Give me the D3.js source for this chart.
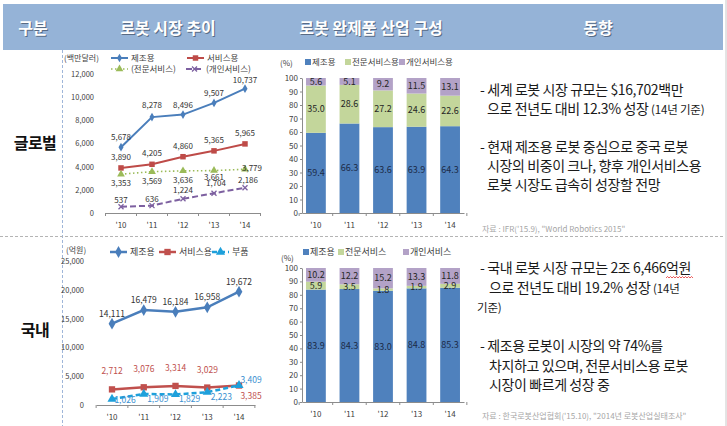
<!DOCTYPE html>
<html><head><meta charset="utf-8">
<script src="https://cdn.jsdelivr.net/npm/d3@7"></script>
<style>
body{margin:0;background:#fff}
text{font-family:"Noto Sans CJK KR","Noto Sans",sans-serif}
</style>
</head><body>
<svg id="c" width="727" height="426"></svg>
<script>
// ---------------- DATA ----------------
const years = ["'10","'11","'12","'13","'14"];
const headerLabels = ["구분","로봇 시장 추이","로봇 완제품 산업 구성","동향"];
const rowLabels = ["글로벌","국내"];

// Global robot market (백만달러)
const gSeriesNames = ["제조용","서비스용","(전문서비스)","(개인서비스)"];
const gMfg = [5678,8278,8496,9507,10737];
const gSvc = [3890,4205,4860,5365,5965];
const gPro = [3353,3569,3636,3661,3779];
const gPer = [537,636,1224,1704,2186];
const gYTicks = [0,2000,4000,6000,8000,10000,12000];
const gUnit = "(백만달러)";

// Global composition (%)
const gBarNames = ["제조용","전문서비스용","개인서비스용"];
const gShareMfg = [59.4,66.3,63.6,63.9,64.3];
const gSharePro = [35.0,28.6,27.2,24.6,22.6];
const gSharePer = [5.6,5.1,9.2,11.5,13.1];

// Domestic robot market (억원)
const dSeriesNames = ["제조용","서비스용","부품"];
const dMfg = [14111,16479,16184,16958,19672];
const dSvc = [2712,3076,3314,3029,3385];
const dParts = [1026,1909,1829,2223,3409];
const dYTicks = [0,5000,10000,15000,20000,25000];
const dUnit = "(억원)";

// Domestic composition (%)
const dBarNames = ["제조용","전문서비스","개인서비스"];
const dShareMfg = [83.9,84.3,83.0,84.8,85.3];
const dSharePro = [5.9,3.5,1.8,1.9,2.9];
const dSharePer = [10.2,12.2,15.2,13.3,11.8];
const pctTicks = [0,10,20,30,40,50,60,70,80,90,100];

// Notes
const gNotes = [
  ["- 세계 로봇 시장 규모는 $16,702백만"],
  ["으로 전년도 대비 12.3% 성장 ","(14년 기준)"],
  null,
  ["- 현재 제조용 로봇 중심으로 중국 로봇"],
  ["시장의 비중이 크나, 향후 개인서비스용"],
  ["로봇 시장도 급속히 성장할 전망"]
];
const gSource = "자료 : IFR('15.9), \"World Robotics 2015\"";
const dNotes = [
  ["- 국내 로봇 시장 규모는 2조 6,466","억원"],
  ["으로 전년도 대비 19.2% 성장 ","(14년"],
  ["","기준)"],
  null,
  ["- 제조용 로봇이 시장의 약 74%를"],
  ["차지하고 있으며, 전문서비스용 로봇"],
  ["시장이 빠르게 성장 중"]
];
const dSource = "자료 : 한국로봇산업협회('15.10), \"2014년 로봇산업실태조사\"";

// ---------------- DRAW ----------------
const svg = d3.select("#c");
const fmt = d3.format(",");

// frame
svg.append("rect").attr("x",3).attr("y",4).attr("width",720).attr("height",46).attr("fill","#95b3d7");
svg.append("line").attr("x1",726).attr("x2",726).attr("y1",0).attr("y2",426).attr("stroke","#c8c8c8").attr("stroke-width",1);
svg.append("line").attr("x1",62.5).attr("x2",62.5).attr("y1",50).attr("y2",426)
  .attr("stroke","#9fb6d9").attr("stroke-width",1).attr("stroke-dasharray","3,2");
svg.append("line").attr("x1",0).attr("x2",724).attr("y1",236.5).attr("y2",236.5)
  .attr("stroke","#b4b4b4").attr("stroke-width",1).attr("stroke-dasharray","3,2");

const headerX = [33,168,371,598];
headerLabels.forEach((t,i)=>{
  svg.append("text").attr("x",headerX[i]+1).attr("y",35).attr("text-anchor","middle")
    .attr("font-size",16).attr("font-weight","bold").attr("fill","#44546a").attr("opacity",0.75).text(t);
  svg.append("text").attr("x",headerX[i]).attr("y",34).attr("text-anchor","middle")
    .attr("font-size",16).attr("font-weight","bold").attr("fill","#fff").text(t);
});
const rowY = [149,336];
rowLabels.forEach((t,i)=>{
  svg.append("text").attr("x",35).attr("y",rowY[i]).attr("text-anchor","middle")
    .attr("font-size",16).attr("font-weight","bold").attr("letter-spacing",-0.5).attr("fill","#111").text(t);
});

function marker(g, type, cx, cy, size, color){
  if(type==="x"){
    const s=size;
    g.append("path").attr("d",`M${cx-s},${cy-s}L${cx+s},${cy+s}M${cx-s},${cy+s}L${cx+s},${cy-s}`)
      .attr("stroke",color).attr("stroke-width",1.3).attr("fill","none");
    return;
  }
  const t = {diamond:d3.symbolDiamond, square:d3.symbolSquare, triangle:d3.symbolTriangle}[type];
  g.append("path").attr("d",d3.symbol().type(t).size(size)()).attr("transform",`translate(${cx},${cy})`)
    .attr("fill",color);
}

function lineChart(o){
  const g = svg.append("g");
  const x = d3.scalePoint().domain(years).range(o.xr);
  const y = d3.scaleLinear().domain([0,o.ticks[o.ticks.length-1]]).range(o.yr);
  const step = x.step();
  const xb = d3.scaleBand().domain(years).range([o.xr[0]-step/2, o.xr[1]+step/2]);
  const ya = g.append("g").attr("transform",`translate(${o.yLabelX},0)`)
    .call(d3.axisLeft(y).tickValues(o.ticks).tickSize(0).tickPadding(0).tickFormat(fmt));
  ya.select(".domain").remove();
  ya.selectAll("text").attr("font-size",o.tickFont).attr("fill","#404040").style("font-family",'"Noto Sans CJK KR",sans-serif');
  const xa = g.append("g").attr("transform",`translate(0,${y(0)})`)
    .call(d3.axisBottom(xb).tickSize(0).tickPadding(o.xPad));
  xa.select(".domain").attr("stroke","#8c8c8c");
  xa.selectAll("text").attr("font-size",8).attr("fill","#404040").style("font-family",'"Noto Sans CJK KR",sans-serif');
  const bounds = years.map(d=>xb(d)).concat([xb.range()[1]]);
  g.selectAll(".bt").data(bounds).enter().append("line")
    .attr("x1",d=>d).attr("x2",d=>d).attr("y1",y(0)).attr("y2",y(0)+3).attr("stroke","#8c8c8c");
  o.series.forEach(s=>{
    const line = d3.line().x((d,i)=>x(years[i])).y(d=>y(d));
    g.append("path").datum(s.values).attr("d",line).attr("fill","none")
      .attr("stroke",s.color).attr("stroke-width",s.width).attr("stroke-dasharray",s.dash||null);
    s.values.forEach((v,i)=>marker(g,s.marker,x(years[i]),y(v),s.msize,s.color));
  });
  o.series.forEach(s=>{
    s.values.forEach((v,i)=>{
      const off = (s.offsets && s.offsets[i]) || [s.dx||0, s.dy];
      g.append("text").attr("x",x(years[i])+off[0]).attr("y",y(v)+off[1]+3)
        .attr("text-anchor","middle").attr("font-size",o.labelFont).attr("fill",s.labelColor).text(fmt(v));
    });
  });
  g.append("text").attr("x",o.unitPos[0]).attr("y",o.unitPos[1]+3).attr("font-size",8).attr("fill","#404040").text(o.unit);
  o.series.forEach((s,i)=>{
    const [lx,ly] = o.legendPos[i];
    g.append("line").attr("x1",lx).attr("x2",lx+17).attr("y1",ly).attr("y2",ly)
      .attr("stroke",s.color).attr("stroke-width",s.width).attr("stroke-dasharray",s.dash||null);
    marker(g,s.marker,lx+8.5,ly,s.msize,s.color);
    g.append("text").attr("x",lx+20).attr("y",ly+3).attr("font-size",o.legendFont).attr("fill","#404040").text(s.name);
  });
}

lineChart({
  xr:[121,245], yr:[213,74], ticks:gYTicks, yLabelX:94, tickFont:7.5, labelFont:8, xPad:9, unit:gUnit, unitPos:[64,58],
  legendFont:8.5,
  legendPos:[[111,58],[187,58],[111,69],[186,69]],
  series:[
    {name:gSeriesNames[0],values:gMfg,color:"#4a7ebb",width:2,marker:"diamond",msize:22,dy:-10,labelColor:"#333",
      offsets:[null,[0,-12],null,null,[0,-9]]},
    {name:gSeriesNames[1],values:gSvc,color:"#be4b48",width:2,marker:"square",msize:30,dy:-11,labelColor:"#333"},
    {name:gSeriesNames[2],values:gPro,color:"#9bbb59",width:1.6,dash:"1.5,2.5",marker:"triangle",msize:26,dy:9,labelColor:"#333",
      offsets:[null,null,null,[0,6],[7,-1]]},
    {name:gSeriesNames[3],values:gPer,color:"#7d60a0",width:2,dash:"6,3",marker:"x",msize:2.5,dy:-9,labelColor:"#333",
      offsets:[[0,-7],[0,-7],null,[2,-10],[3,-8]]}
  ]
});
lineChart({
  xr:[112,239], yr:[405,261], ticks:dYTicks, yLabelX:84, tickFont:7.5, labelFont:8.5, xPad:9, unit:dUnit, unitPos:[66,250],
  legendFont:9,
  legendPos:[[110,252],[159,252],[212,252]],
  series:[
    {name:dSeriesNames[0],values:dMfg,color:"#4a7ebb",width:2.5,marker:"diamond",msize:40,dy:-10,labelColor:"#333"},
    {name:dSeriesNames[1],values:dSvc,color:"#c0504d",width:2.5,marker:"square",msize:40,dy:-18,labelColor:"#c0504d",
      offsets:[null,null,null,null,[12,10]]},
    {name:dSeriesNames[2],values:dParts,color:"#1ea0db",width:2.5,dash:"5,3",marker:"triangle",msize:36,dx:14,dy:5,labelColor:"#3a8fd0",
      offsets:[[13,1],null,null,null,[12,-5]]}
  ]
});

function barChart(o){
  const g = svg.append("g");
  const x = d3.scaleBand().domain(years).range([302,464]).paddingInner(0.41).paddingOuter(0.12);
  const y = d3.scaleLinear().domain([0,100]).range([o.y0,o.y100]);
  const keys = ["a","b","c"];
  const rows = years.map((yr,i)=>({yr,a:o.a[i],b:o.b[i],c:o.c[i]}));
  const stack = d3.stack().keys(keys)(rows);
  const colors = ["#4f81bd","#c3d69b","#b3a2c7"];
  stack.forEach((layer,k)=>{
    g.selectAll(null).data(layer).enter().append("rect")
      .attr("x",d=>x(d.data.yr)).attr("width",x.bandwidth())
      .attr("y",d=>y(d[1])).attr("height",d=>y(d[0])-y(d[1])).attr("fill",colors[k]);
  });
  stack.forEach((layer,k)=>{
    g.selectAll(null).data(layer).enter().append("text")
      .attr("x",d=>x(d.data.yr)+x.bandwidth()/2).attr("y",d=>(y(d[0])+y(d[1]))/2+3.2)
      .attr("text-anchor","middle").attr("font-size",9).attr("fill",k===0?"#1c2b48":"#262626")
      .text(d=>(d[1]-d[0]).toFixed(1));
  });
  const ya = g.append("g").attr("transform",`translate(302,0)`)
    .call(d3.axisLeft(y).tickValues(pctTicks).tickSizeInner(2).tickSizeOuter(0).tickPadding(2));
  ya.select(".domain").attr("stroke","#8c8c8c");
  ya.selectAll("line").attr("stroke","#8c8c8c");
  ya.selectAll("text").attr("font-size",8).attr("fill","#404040").style("font-family",'"Noto Sans CJK KR",sans-serif');
  const xa = g.append("g").attr("transform",`translate(0,${o.y0})`)
    .call(d3.axisBottom(x).tickSize(0).tickPadding(9));
  xa.select(".domain").attr("stroke","#8c8c8c");
  xa.selectAll("text").attr("font-size",8).attr("fill","#404040").style("font-family",'"Noto Sans CJK KR",sans-serif');
  const step = x.step();
  const bounds = years.map(d=>x(d)-(step-x.bandwidth())/2).concat([x(years[4])+x.bandwidth()+(step-x.bandwidth())/2]);
  g.selectAll(null).data(bounds).enter().append("line")
    .attr("x1",d=>d).attr("x2",d=>d).attr("y1",o.y0).attr("y2",o.y0+3).attr("stroke","#8c8c8c");
  g.append("text").attr("x",o.unitPos[0]).attr("y",o.unitPos[1]+3).attr("font-size",8).attr("fill","#404040").text("(%)");
  o.names.forEach((n,i)=>{
    const lx=o.legendX[i];
    g.append("rect").attr("x",lx).attr("y",o.legendY-3).attr("width",6).attr("height",6).attr("fill",colors[i]);
    g.append("text").attr("x",lx+7).attr("y",o.legendY+3.3).attr("font-size",o.legendFont).attr("fill","#404040").text(n);
  });
}
barChart({a:gShareMfg,b:gSharePro,c:gSharePer,y0:213,y100:78,names:gBarNames,legendX:[305,345,399],legendY:62,legendFont:8.5,unitPos:[280,63]});
barChart({a:dShareMfg,b:dSharePro,c:dSharePer,y0:402,y100:268,names:dBarNames,legendX:[303,338,403],legendY:252,legendFont:9,unitPos:[281,258]});

function notes(lines, baseY, lh, contX, src, srcY){
  const g = svg.append("g");
  let wavyT = null;
  lines.forEach((ln,i)=>{
    if(!ln) return;
    const isBullet = ln[0].startsWith("-");
    const small = ln[0]==="";
    const t = g.append("text").attr("x",isBullet?480:(small?477:contX)).attr("y",baseY+i*lh)
      .attr("font-size",14).attr("letter-spacing",-0.4).attr("fill","#1a1a1a");
    if(ln[0]) t.append("tspan").text(ln[0]);
    if(ln[1]){
      const sp = t.append("tspan").text(ln[1]);
      if(ln[1].startsWith("(")||ln[1].startsWith("기준")) sp.attr("font-size",11.5).attr("letter-spacing",-0.2);
      else wavyT = sp;
    }
  });
  g.append("text").attr("x",482).attr("y",srcY).attr("font-size",8).attr("fill","#a6a6a6").text(src);
  if(wavyT){
    const bb = wavyT.node().getBBox();
    let d = `M${bb.x},${bb.y+bb.height+1}`;
    for(let xx=bb.x; xx<bb.x+bb.width; xx+=3){
      d += `l1.5,-1.5l1.5,1.5`;
    }
    g.append("path").attr("d",d).attr("stroke","#e03030").attr("stroke-width",0.8).attr("fill","none");
  }
}
notes(gNotes, 95, 19, 487, gSource, 232);
notes(dNotes, 273, 19.5, 489, dSource, 419);
</script>
</body></html>
